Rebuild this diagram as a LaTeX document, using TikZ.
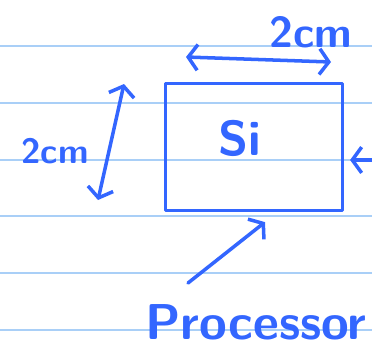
\documentclass[tikz,border=0pt]{standalone}
\usepackage{fontspec}
\usepackage{xcolor}
\usetikzlibrary{arrows.meta,positioning}
\definecolor{ink}{HTML}{3366FF}
\definecolor{ruling}{HTML}{A9CFF7}

\begin{document}
\begin{tikzpicture}[x=0.03cm, y=-0.03cm,
        >={Straight Barb[length=8pt, width=22pt]},
        pen/.style={draw=ink, line width=3pt, line cap=round, line join=round},
        hand/.style={text=ink, inner sep=0pt, font=\sffamily\bfseries\fontsize{#1}{#1}\selectfont}]
    \useasboundingbox (0,0) rectangle (372,352);
    \foreach \y in {46,103,160,216,273,330}
        \draw[ruling, line width=1.4pt] (0,\y) -- (372,\y);

    \node[pen, minimum width=5.3cm, minimum height=3.8cm, inner sep=0pt] (chip) at (254,147) {};
    \node[hand=42] (si) at (240,138) {Si};

    \coordinate (wl) at (186,57);
    \coordinate (wr) at (331,62);
    \draw[pen, <->] (wl) -- (wr);
    \node[hand=37] (wlab) at (311,32) {2cm};

    \coordinate (ht) at (124,84);
    \coordinate (hb) at (98,200);
    \draw[pen, <->] (ht) -- (hb);
    \node[hand=30] (hlab) at (55,151) {2cm};

    \coordinate (rin) at (392,160);
    \draw[pen, ->] (rin) -- ([shift={(6,13)}]chip.east);

    \node[hand=43, anchor=west] (proc) at (145,322) {Processor};
    \coordinate (ptail) at (188,283);
    \draw[pen, ->] (ptail) -- ([shift={(11,10)}]chip.south);
\end{tikzpicture}
\end{document}
